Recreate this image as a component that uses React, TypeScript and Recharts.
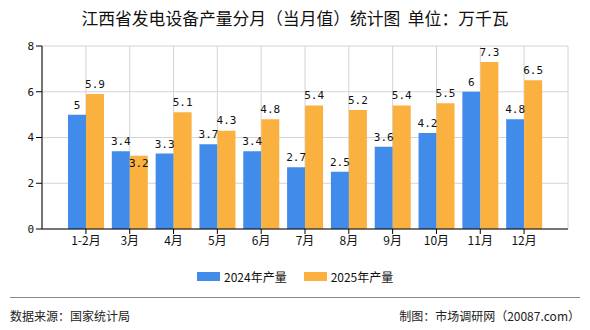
import React from 'react';
import { BarChart, Bar, XAxis, YAxis, CartesianGrid, LabelList } from 'recharts';

const months = ['1-2月', '3月', '4月', '5月', '6月', '7月', '8月', '9月', '10月', '11月', '12月'];
const output2024 = [5, 3.4, 3.3, 3.7, 3.4, 2.7, 2.5, 3.6, 4.2, 6, 4.8];
const output2025 = [5.9, 3.2, 5.1, 4.3, 4.8, 5.4, 5.2, 5.4, 5.5, 7.3, 6.5];
const yTicks = [0, 2, 4, 6, 8];

const BLUE = '#418BEB';
const ORANGE = '#FBB13F';
const FONT = '"Noto Sans CJK SC", "Noto Sans", sans-serif';
const NUM_FONT = '"DejaVu Sans Mono", "Noto Sans CJK SC", monospace';

const chartData = months.map((m, i) => ({
  month: m,
  y2024: output2024[i],
  y2025: output2025[i],
}));

// 2025 labels sit above the bar, except where the bar is shorter than its
// 2024 neighbour: then the label goes just inside the bar top so it doesn't
// collide with the neighbouring label.
const Label2025 = (props: any) => {
  const { x, y, width, value, index } = props;
  const inside = output2025[index] < output2024[index];
  const cy = inside ? y + 8 : y - 10;
  return (
    <text
      x={x + width / 2}
      y={cy}
      textAnchor="middle"
      dominantBaseline="central"
      style={{ fontSize: 11, fill: '#111', fontFamily: NUM_FONT }}
    >
      {value}
    </text>
  );
};

const LegendItem: React.FC<{ color: string; label: string }> = ({ color, label }) => (
  <div style={{ display: 'flex', alignItems: 'center', marginRight: 17 }}>
    <span style={{ width: 23, height: 9, background: color, marginRight: 4, display: 'inline-block' }} />
    <span style={{ fontSize: 12, color: '#111' }}>{label}</span>
  </div>
);

const App: React.FC = () => {
  return (
    <div style={{ position: 'absolute', left: 0, top: 0, width: 590, height: 330, background: '#fff', fontFamily: FONT }}>
      <div style={{ position: 'absolute', top: 6, left: 0, width: 590, textAlign: 'center', fontSize: 16.8, color: '#111', lineHeight: '24px' }}>
        江西省发电设备产量分月（当月值）统计图&nbsp;&nbsp;单位：万千瓦
      </div>

      <BarChart
        width={590}
        height={330}
        data={chartData}
        margin={{ top: 46, right: 22, left: 12, bottom: 71 }}
        barGap={0}
        barSize={18}
      >
        <CartesianGrid stroke="#d4d4d4" />
        <XAxis
          dataKey="month"
          interval={0}
          padding={{ left: 22, right: 22 }}
          height={30}
          axisLine={{ stroke: '#000' }}
          tickLine={{ stroke: '#000' }}
          tickSize={5}
          tick={{ fontSize: 12, fill: '#111', fontFamily: FONT }}
        />
        <YAxis
          width={30}
          domain={[0, 8]}
          ticks={yTicks}
          axisLine={{ stroke: '#000' }}
          tickLine={{ stroke: '#000' }}
          tickSize={6}
          tickMargin={2}
          tick={{ fontSize: 11, fill: '#111', fontFamily: NUM_FONT }}
        />
        <YAxis
          yAxisId="edge"
          orientation="right"
          width={0}
          domain={[0, 8]}
          tick={false}
          tickLine={false}
          axisLine={{ stroke: '#d4d4d4' }}
        />
        <Bar dataKey="y2024" fill={BLUE} isAnimationActive={false}>
          <LabelList dataKey="y2024" position="top" offset={6} style={{ fontSize: 11, fill: '#111', fontFamily: NUM_FONT }} />
        </Bar>
        <Bar dataKey="y2025" fill={ORANGE} isAnimationActive={false}>
          <LabelList dataKey="y2025" content={<Label2025 />} />
        </Bar>
      </BarChart>

      <div style={{ position: 'absolute', top: 268, left: 197, display: 'flex' }}>
        <LegendItem color={BLUE} label="2024年产量" />
        <LegendItem color={ORANGE} label="2025年产量" />
      </div>

      <div style={{ position: 'absolute', top: 297, left: 10, width: 570, borderTop: '1px solid #888' }} />
      <div style={{ position: 'absolute', top: 307, left: 10, fontSize: 12, color: '#222' }}>数据来源：国家统计局</div>
      <div style={{ position: 'absolute', top: 307, right: 10, fontSize: 12, color: '#222' }}>制图：市场调研网（20087.com）</div>
    </div>
  );
};

export default App;
